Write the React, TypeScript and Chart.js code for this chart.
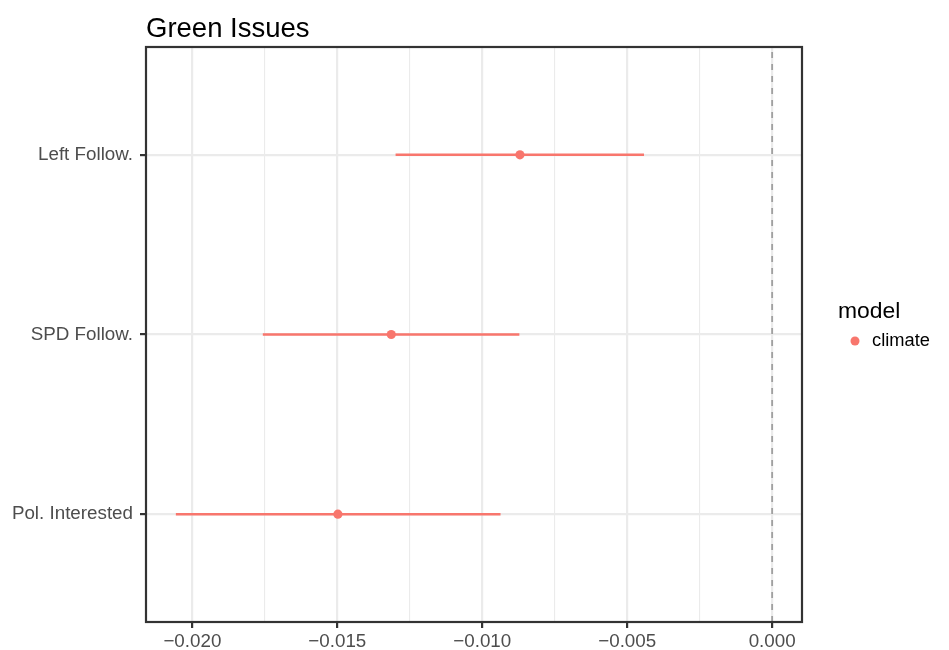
import React, { useEffect, useRef } from "react";
import { Chart, registerables } from "chart.js";

Chart.register(...registerables);

const categories = ["Pol. Interested", "SPD Follow.", "Left Follow."];
const estimates = [-0.01498, -0.01314, -0.0087];
const lowerCI = [-0.02057, -0.01757, -0.01299];
const upperCI = [-0.00937, -0.00872, -0.00442];
const xTicks = [-0.02, -0.0175, -0.015, -0.0125, -0.01, -0.0075, -0.005, -0.0025, 0];
const xMajor = [-0.02, -0.015, -0.01, -0.005, 0];
const xLabels = ["\u22120.020", "\u22120.015", "\u22120.010", "\u22120.005", "0.000"];
const titleText = "Green Issues";
const legendTitle = "model";
const seriesName = "climate";

const RED = "#F8766D";
const FONT = "'Liberation Sans', Arial, Helvetica, sans-serif";

const isMajor = (v: number) => xMajor.some((m) => Math.abs(m - v) < 1e-9);

const decorPlugin = {
  id: "decor",
  afterDraw(chart: any) {
    const { ctx, chartArea } = chart;
    ctx.save();
    // panel border
    ctx.strokeStyle = "#333333";
    ctx.lineWidth = 2.2;
    ctx.strokeRect(chartArea.left, chartArea.top, chartArea.right - chartArea.left, chartArea.bottom - chartArea.top);
    // title
    ctx.fillStyle = "#000000";
    ctx.font = `27.5px ${FONT}`;
    ctx.textAlign = "left";
    ctx.textBaseline = "alphabetic";
    ctx.fillText(titleText, chartArea.left, 37);
    // legend
    ctx.font = `22.9px ${FONT}`;
    ctx.textBaseline = "middle";
    ctx.fillText(legendTitle, 838, 312);
    ctx.font = `18.3px ${FONT}`;
    ctx.fillText(seriesName, 872, 341);
    ctx.fillStyle = RED;
    ctx.beginPath();
    ctx.arc(855, 341, 4.5, 0, Math.PI * 2);
    ctx.fill();
    ctx.restore();
  },
};

export default function App() {
  const ref = useRef<HTMLCanvasElement | null>(null);
  useEffect(() => {
    if (!ref.current) return;
    const ciSets = categories.map((c, i) => ({
      type: "scatter" as const,
      label: c + " CI",
      data: [
        { x: lowerCI[i], y: i + 1 },
        { x: upperCI[i], y: i + 1 },
      ],
      showLine: true,
      borderColor: RED,
      borderWidth: 2.5,
      pointRadius: 0,
      order: 2,
    }));
    const chart = new Chart(ref.current, {
      type: "scatter",
      data: {
        datasets: [
          {
            label: "zero",
            data: [
              { x: 0, y: 0.4 },
              { x: 0, y: 3.6 },
            ],
            showLine: true,
            borderColor: "#A0A0A0",
            borderWidth: 1.8,
            borderDash: [6, 6],
            pointRadius: 0,
            order: 3,
          },
          ...ciSets,
          {
            label: seriesName,
            data: categories.map((_, i) => ({ x: estimates[i], y: i + 1 })),
            backgroundColor: RED,
            borderWidth: 0,
            pointRadius: 4.6,
            order: 1,
          },
        ] as any,
      },
      options: {
        animation: false,
        responsive: true,
        maintainAspectRatio: false,
        layout: { padding: { left: 0, top: 47, right: 147, bottom: 0 } },
        plugins: { legend: { display: false }, tooltip: { enabled: false }, title: { display: false } },
        scales: {
          x: {
            type: "linear",
            min: -0.0216,
            max: 0.00103,
            afterBuildTicks: (s: any) => {
              s.ticks = xTicks.map((v) => ({ value: v }));
            },
            afterFit: (s: any) => {
              s.height = 28;
            },
            border: { display: false },
            grid: {
              color: "#EBEBEB",
              lineWidth: (c: any) => (isMajor(c.tick.value) ? 2.2 : 1.1),
              tickColor: (c: any) => (isMajor(c.tick.value) ? "#333333" : "rgba(0,0,0,0)"),
              tickWidth: 2.2,
              tickLength: 6,
              drawTicks: true,
            },
            ticks: {
              autoSkip: false,
              maxRotation: 0,
              padding: 3,
              color: "#4D4D4D",
              font: { family: FONT, size: 18.8 },
              callback: (v: any) => {
                const idx = xMajor.findIndex((m) => Math.abs(m - Number(v)) < 1e-9);
                return idx >= 0 ? xLabels[idx] : "";
              },
            },
          },
          y: {
            type: "linear",
            min: 0.4,
            max: 3.6,
            afterBuildTicks: (s: any) => {
              s.ticks = categories.map((_, i) => ({ value: i + 1 }));
            },
            afterFit: (s: any) => {
              s.width = 146;
            },
            border: { display: false },
            grid: {
              color: "#EBEBEB",
              lineWidth: 2.2,
              tickColor: "#333333",
              tickWidth: 2.2,
              tickLength: 6,
            },
            ticks: {
              autoSkip: false,
              padding: 7,
              color: "#4D4D4D",
              font: { family: FONT, size: 18.8 },
              callback: (v: any) => categories[Math.round(Number(v)) - 1] ?? "",
            },
          },
        },
      },
      plugins: [decorPlugin],
    });
    return () => chart.destroy();
  }, []);
  return (
    <div style={{ position: "absolute", left: 0, top: 0, width: 949, height: 650, background: "#fff" }}>
      <canvas ref={ref} />
    </div>
  );
}
